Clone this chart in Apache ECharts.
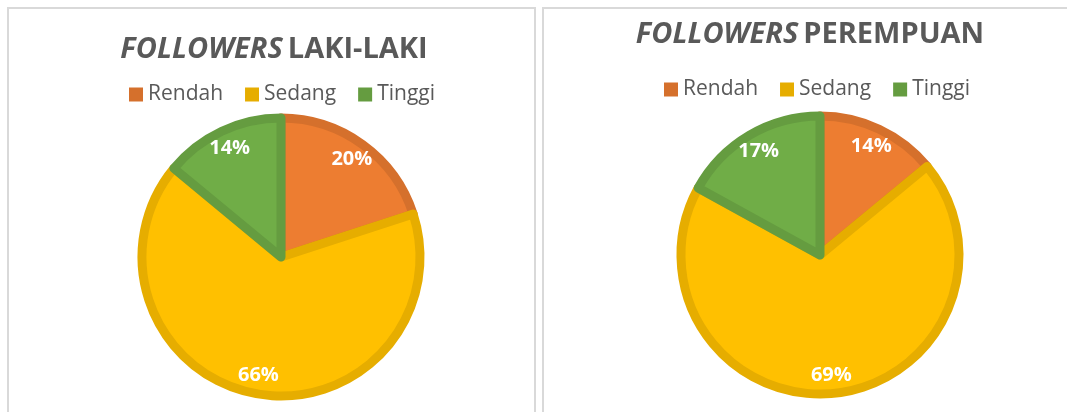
<!DOCTYPE html>
<html>
<head>
<meta charset="utf-8">
<script src="https://cdn.jsdelivr.net/npm/echarts@6/dist/echarts.min.js"></script>
<style>
  html, body { margin: 0; padding: 0; background: #fff; }
  #main { width: 1067px; height: 412px; }
</style>
</head>
<body>
<div id="main"></div>
<script>
// kategori
var categories = ['Rendah', 'Sedang', 'Tinggi'];
// persentase followers laki-laki
var lakiValues = [20, 66, 14];
// persentase followers perempuan
var perempuanValues = [14, 69, 17];

var fillColors = ['#ED7D31', '#FFC000', '#70AD47'];
var borderColors = ['#D5702C', '#E6AD00', '#659C40'];

var chart = echarts.init(document.getElementById('main'), null, { renderer: 'canvas' });

function pieData(values) {
  return categories.map(function (name, i) {
    return {
      name: name,
      value: values[i],
      itemStyle: { color: fillColors[i], borderColor: borderColors[i] }
    };
  });
}

function legendData() {
  return categories.map(function (name, i) {
    return { name: name, itemStyle: { color: borderColors[i], borderWidth: 0 } };
  });
}

var titleText = {
  color: '#595959',
  rich: {
    i: { fontFamily: 'Open Sans', fontStyle: 'italic', fontWeight: 'bold', fontSize: 29, color: '#595959' },
    b: { fontFamily: 'Open Sans', fontWeight: 'bold', fontSize: 29, color: '#595959' }
  }
};

function mainPie(center, values) {
  return {
    type: 'pie',
    center: center,
    radius: 139,
    startAngle: 90,
    clockwise: true,
    label: { show: false },
    labelLine: { show: false },
    itemStyle: { borderWidth: 9 },
    emphasis: { disabled: true },
    data: pieData(values)
  };
}

// lapisan transparan untuk posisi label
function labelPie(center, values) {
  return {
    type: 'pie',
    center: center,
    radius: [92, 143],
    startAngle: 90,
    clockwise: true,
    silent: true,
    itemStyle: { color: 'transparent', borderWidth: 0 },
    label: {
      show: true,
      position: 'inside',
      formatter: '{c}%',
      color: '#fff',
      fontFamily: 'Open Sans',
      fontWeight: 'bold',
      fontSize: 20
    },
    labelLine: { show: false },
    emphasis: { disabled: true },
    data: categories.map(function (name, i) { return { name: name, value: values[i] }; })
  };
}

var legendBase = {
  icon: 'rect',
  itemWidth: 14,
  itemHeight: 14,
  itemGap: 22,
  textStyle: { color: '#595959', fontFamily: 'Open Sans', fontSize: 21 },
  selectedMode: false
};

chart.setOption({
  animation: false,
  backgroundColor: '#fff',
  graphic: [
    { type: 'rect', shape: { x: 8, y: 8, width: 527, height: 430 }, style: { fill: null, stroke: '#d9d9d9', lineWidth: 2 } },
    { type: 'rect', shape: { x: 543, y: 8, width: 540, height: 430 }, style: { fill: null, stroke: '#d9d9d9', lineWidth: 2 } }
  ],
  title: [
    { text: '{i|FOLLOWERS} {b|LAKI-LAKI}', left: 269, top: 30, textAlign: 'center', textStyle: titleText },
    { text: '{i|FOLLOWERS} {b|PEREMPUAN}', left: 805, top: 15, textAlign: 'center', textStyle: titleText }
  ],
  legend: [
    Object.assign({}, legendBase, { left: 124, top: 79, data: legendData() }),
    Object.assign({}, legendBase, { left: 659, top: 74, data: legendData() })
  ],
  series: [
    mainPie([281, 257], lakiValues),
    labelPie([281, 257], lakiValues),
    mainPie([820, 255], perempuanValues),
    labelPie([820, 255], perempuanValues)
  ]
});
</script>
</body>
</html>
